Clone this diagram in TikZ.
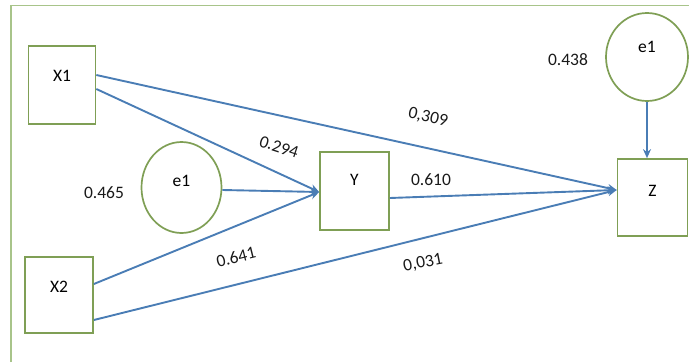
\documentclass[tikz,border=0pt]{standalone}
\usepackage{fontspec}
\setmainfont{Carlito}
\usetikzlibrary{arrows.meta,shapes.geometric}
\definecolor{boxgreen}{HTML}{7F9F55}
\definecolor{framegreen}{HTML}{A8C48A}
\definecolor{arrowblue}{HTML}{4A7DB5}
\begin{document}
\begin{tikzpicture}[x=1pt,y=1pt,
  font=\fontsize{17.5}{20}\selectfont,
  varbox/.style={draw=boxgreen,line width=1.7pt,fill=white,inner sep=0pt},
  errc/.style={ellipse,draw=boxgreen,line width=1.7pt,fill=white,inner sep=0pt},
  path/.style={draw=arrowblue,line width=1.9pt,-{Stealth[length=9pt,width=8pt]}},
  coef/.style={text=black!90,inner sep=1pt}
]
\useasboundingbox (0,0) rectangle (689,-362);
\draw[framegreen,line width=1.8pt] (11,-362) -- (11,-5.5) -- (689,-5.5);

\node[varbox,minimum width=67,minimum height=78,label={[yshift=9]center:X1}] (X1) at (62,-85) {};
\node[varbox,minimum width=68,minimum height=76,label={[yshift=8]center:X2}] (X2) at (59,-295) {};
\node[varbox,minimum width=69,minimum height=78,label={[yshift=11]center:Y}] (Y) at (354.5,-191) {};
\node[varbox,minimum width=70,minimum height=77,label={[yshift=7]center:Z}] (Z) at (652.5,-197.5) {};
\node[errc,minimum width=80,minimum height=91,label={[yshift=7]center:e1}] (E1) at (181.5,-187.5) {};
\node[errc,minimum width=82,minimum height=88,label={[yshift=10]center:e1}] (E2) at (647,-57) {};

\coordinate (Yin) at ([yshift=-1]Y.west);
\coordinate (Zin) at ([yshift=7.5]Z.west);

\draw[path] ([yshift=10]X1.east) -- (Zin);
\draw[path] ([yshift=-4]X1.east) -- (Yin);
\draw[path] ([yshift=-2.5]E1.east) -- (Yin);
\draw[path] ([yshift=11]X2.east) -- (Yin);
\draw[path] ([yshift=-25]X2.east) -- (Zin);
\draw[path] ([yshift=-7]Y.east) -- (Zin);
\draw[path] (E2.south) -- (E2.south |- Z.north);

\node[coef] (c465) at (104,-193) {0.465};
\node[coef,rotate=-18] (c294) at (279,-147) {0.294};
\node[coef,rotate=-13] (c309) at (428,-118) {0,309};
\node[coef] (c610) at (431,-180) {0.610};
\node[coef,rotate=14] (c641) at (236,-257) {0.641};
\node[coef,rotate=11] (c031) at (423,-263) {0,031};
\node[coef] (c438) at (568,-60) {0.438};
\end{tikzpicture}
\end{document}
